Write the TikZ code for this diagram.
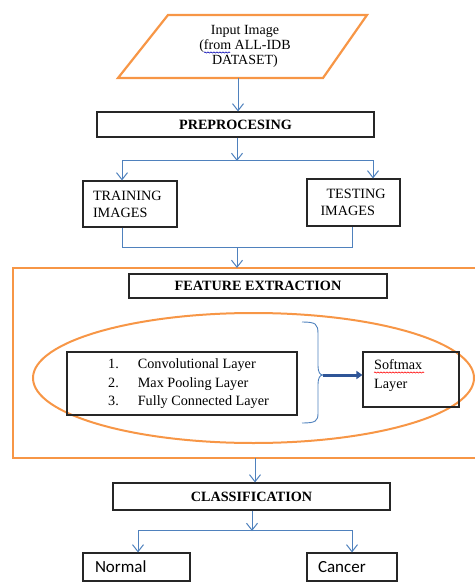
\documentclass[tikz,border=0pt]{standalone}
\usepackage{fontspec}
\setmainfont{Liberation Serif}
\newfontfamily\calib{Carlito}
\usetikzlibrary{arrows.meta,decorations.pathmorphing}
\definecolor{orng}{RGB}{247,150,70}
\definecolor{lblue}{RGB}{79,129,189}
\definecolor{dblue}{RGB}{47,85,151}
\tikzset{
  box/.style={draw=black!85, line width=1.1pt, inner sep=0pt, font=\fontsize{14.2}{17}\selectfont},
  txt/.style={inner sep=0pt, font=\fontsize{14.2}{17}\selectfont},
  flow/.style={lblue, line width=1pt, -{Straight Barb[length=7pt,width=11pt,line width=1pt]}},
  plain/.style={lblue, line width=1pt},
  orangeline/.style={orng, line width=2.2pt},
  squiggle/.style={line width=0.6pt, decorate, decoration={snake, amplitude=0.6pt, segment length=3pt}},
}
\begin{document}
\begin{tikzpicture}[x=1pt,y=-1pt]
\useasboundingbox (0,0) rectangle (474,583);
% input parallelogram
\draw[orangeline, line join=miter] (168,15) -- (367,15) -- (323,78) -- (118,78) -- cycle;
\node[txt, font=\fontsize{14}{15}\selectfont, align=center] (input) at (245,46.5)
  {Input Image\\(from ALL-IDB\\DATASET)};
\coordinate (inbot) at (238,78);
\draw[blue!70!black, squiggle] (204,52.5) -- (230,52.5);
% preprocessing
\node[box, minimum width=277, minimum height=25, font=\fontsize{14.2}{17}\selectfont\bfseries] (prep) at (235.5,124.5) {PREPROCESING};
\draw[flow] (inbot) -- (prep.north -| inbot);
\coordinate (split1) at (237,160);
\draw[plain] (prep.south -| split1) -- (split1);
\draw[flow] (prep.south -| split1) -- ([yshift=-1]split1);
% training/testing
\node[box, minimum width=94, minimum height=46, text width=74, align=left] (train) at (130,204) {TRAINING\\IMAGES};
\node[box, minimum width=93, minimum height=47, text width=66, align=left] (test) at (353.5,202.5) {\hspace*{6pt}TESTING\\IMAGES};
\coordinate (tl) at (122,160);
\coordinate (tr) at (373,160);
\draw[plain] (tl) -- (tr);
\draw[flow] (tl) -- (tl |- train.north);
\draw[flow] (tr) -- (tr |- test.north);
\coordinate (jl) at (122,247);
\coordinate (jr) at (352,247);
\coordinate (jm) at (237,247);
\draw[plain] (jl |- train.south) -- (jl) -- (jr) -- (jr |- test.south);
% feature extraction frame
\draw[orangeline] (13,268) rectangle (480,458);
\coordinate (frametop) at (237,268);
\coordinate (framebot) at (255,458);
\draw[flow] (jm) -- (frametop);
\node[box, minimum width=258, minimum height=24, font=\fontsize{14.2}{17}\selectfont\bfseries] (feat) at (258,286) {FEATURE EXTRACTION};
% ellipse
\draw[orng, line width=2pt] (253.5,378) ellipse [x radius=220.5, y radius=65];
% layers
\node[box, minimum width=230, minimum height=63] (layers) at (182,383.5) {};
\node[txt, anchor=base west] (l1) at (108,368.5) {1.\hspace{19pt}Convolutional Layer};
\node[txt, anchor=base west] (l2) at (108,387) {2.\hspace{19pt}Max Pooling Layer};
\node[txt, anchor=base west] (l3) at (108,405.5) {3.\hspace{19pt}Fully Connected Layer};
% softmax
\node[box, minimum width=96, minimum height=55] (soft) at (411,379.5) {};
\node[txt, anchor=base west] (s1) at (374,369.5) {Softmax};
\node[txt, anchor=base west] (s2) at (374,388) {Layer};
\draw[red, squiggle] (374,372.5) -- (424,372.5);
% brace
\coordinate (btip) at (323,375);
\draw[plain, line width=0.9pt] (302,322) .. controls (316,322) and (318,324) .. (318,334) -- (318,366)
  .. controls (318,372) and (320,375) .. (btip) .. controls (320,375) and (318,378) .. (318,384)
  -- (318,413) .. controls (318,421) and (316,423) .. (302,423);
\draw[dblue, line width=3pt, -{Triangle[length=6pt,width=8pt]}] (btip) -- (btip -| soft.west);
% classification
\node[box, minimum width=277, minimum height=27, font=\fontsize{14.2}{17}\selectfont\bfseries] (cls) at (251.5,496.5) {CLASSIFICATION};
\draw[flow] (framebot) -- (framebot |- cls.north);
\coordinate (split2) at (252,530);
\draw[flow] (cls.south -| split2) -- ([yshift=-1]split2);
\coordinate (cl) at (138,530);
\coordinate (cr) at (352,530);
\draw[plain] (cl) -- (cr);
% outputs
\node[box, minimum width=107, minimum height=28, text width=83, align=left, font=\calib\fontsize{17}{19}\selectfont] (normal) at (136.5,567) {Normal};
\node[box, minimum width=90, minimum height=28, text width=68, align=left, font=\calib\fontsize{17}{19}\selectfont] (cancer) at (352,567) {Cancer};
\draw[flow] (cl) -- (cl |- normal.north);
\draw[flow] (cr) -- (cr |- cancer.north);
\end{tikzpicture}
\end{document}
